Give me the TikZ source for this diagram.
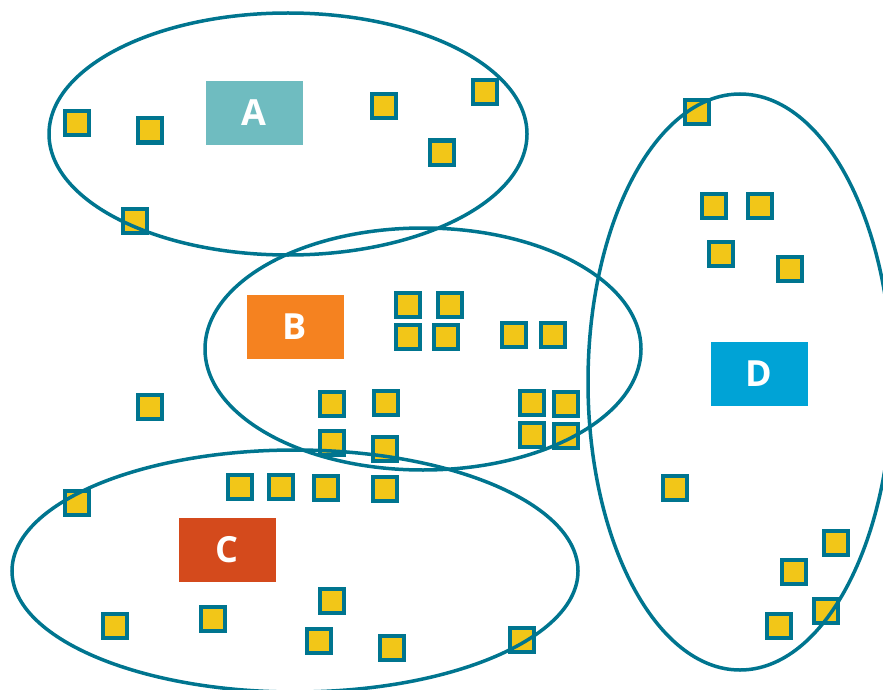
\documentclass[tikz,border=0pt]{standalone}
\usepackage{fontspec}
\setmainfont{Open Sans}
\usetikzlibrary{shapes.geometric}
\definecolor{ringc}{RGB}{0,117,143}
\definecolor{sqfill}{RGB}{242,198,24}
\definecolor{colA}{RGB}{111,188,192}
\definecolor{colB}{RGB}{245,130,32}
\definecolor{colC}{RGB}{212,74,28}
\definecolor{colD}{RGB}{0,163,214}
\tikzset{
  sq/.style={draw=ringc, fill=sqfill, line width=4pt, minimum size=24pt, inner sep=0pt, outer sep=0pt},
  lab/.style={minimum width=97pt, minimum height=64pt, inner sep=0pt, text=white, font=\bfseries\fontsize{36}{36}\selectfont},
  ring/.style={draw=ringc, line width=3.5pt, ellipse, inner sep=0pt}
}
\begin{document}
\begin{tikzpicture}[x=1pt,y=-1pt]
\useasboundingbox (0,0) rectangle (883,690);
% squares
\foreach \x/\y [count=\i] in {76/123,149/130,383/106,484/92,441/152,134/220,
  696/112,713/205,759/205,720/253,789/268,674/487,835/542,793/571,825/610,778/625,
  407/304,449/304,407/336,445/336,513/334,552/334,331/403,385/402,531/402,565/403,531/434,565/435,331/442,384/448,149/406,
  76/502,239/486,280/486,325/487,384/488,114/625,212/618,331/600,318/640,391/647,521/639}
  \node[sq] (s\i) at (\x+0.5,\y+0.5) {};
% ellipses
\node[ring, minimum width=478pt, minimum height=242pt] (eA) at (288,134) {};
\node[ring, minimum width=436pt, minimum height=242pt] (eB) at (423,349) {};
\node[ring, minimum width=566pt, minimum height=242pt] (eC) at (295,571) {};
\node[ring, minimum width=304pt, minimum height=576pt] (eD) at (740,382) {};
% labels
\node[lab, fill=colA] (A) at (254,113) {A};
\node[lab, fill=colB] (B) at (295,327) {B};
\node[lab, fill=colC] (C) at (227,550) {C};
\node[lab, fill=colD] (D) at (759,374) {D};
\end{tikzpicture}
\end{document}
